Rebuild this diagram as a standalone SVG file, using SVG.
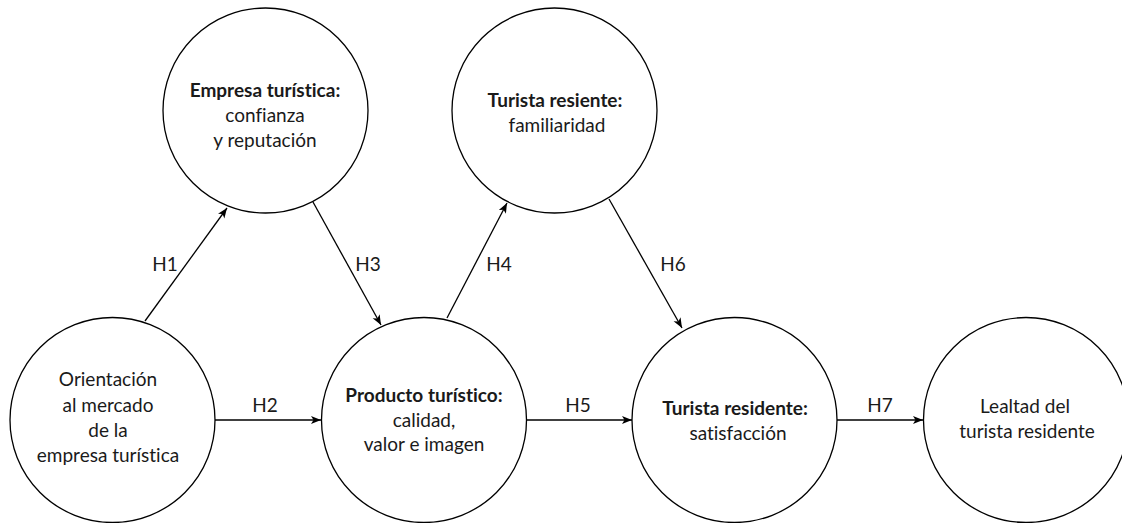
<svg xmlns="http://www.w3.org/2000/svg" width="1122" height="523" viewBox="0 0 1122 523">
<style>
.node{fill:#fff;stroke:#000;stroke-width:1.3}
text{font-family:Lato,"Open Sans","Liberation Sans",sans-serif;font-size:19px;fill:#1a1a1a;text-anchor:middle;font-variant-ligatures:none}
.b{font-weight:bold}
.edge{stroke:#000;stroke-width:1.3;fill:none;marker-end:url(#ah)}
</style>
<defs>
<marker id="ah" viewBox="0 0 10 10" refX="10" refY="5" markerWidth="10" markerHeight="10" markerUnits="userSpaceOnUse" orient="auto">
<path d="M0,1 L10,5 L0,9 L2.5,5 Z" fill="#000"/>
</marker>
</defs>
<g id="connectors">
<line class="edge" x1="145" y1="321" x2="227" y2="208"/>
<line class="edge" x1="215" y1="420" x2="321" y2="420"/>
<line class="edge" x1="313" y1="202" x2="381" y2="325"/>
<line class="edge" x1="447" y1="318" x2="507" y2="203"/>
<line class="edge" x1="526" y1="420" x2="632" y2="420"/>
<line class="edge" x1="609" y1="199" x2="682" y2="328"/>
<line class="edge" x1="837" y1="420" x2="923" y2="420"/>
<text x="165" y="271">H1</text>
<text x="265" y="412">H2</text>
<text x="368" y="271">H3</text>
<text x="499" y="271">H4</text>
<text x="578" y="412">H5</text>
<text x="673" y="271">H6</text>
<text x="880" y="412">H7</text>
</g>
<g id="orientacion">
<circle class="node" cx="112.5" cy="420" r="102.5"/>
<text x="108" y="386">Orientación</text>
<text x="108" y="412">al mercado</text>
<text x="108" y="437">de la</text>
<text x="108" y="462">empresa turística</text>
</g>
<g id="empresa">
<circle class="node" cx="265.5" cy="110.5" r="102.5"/>
<text x="265" y="97" class="b">Empresa turística:</text>
<text x="265" y="122">confianza</text>
<text x="265" y="147">y reputación</text>
</g>
<g id="producto">
<circle class="node" cx="424" cy="420" r="102.5"/>
<text x="424" y="402" class="b">Producto turístico:</text>
<text x="424" y="427">calidad, </text>
<text x="424" y="451">valor e imagen</text>
</g>
<g id="familiaridad">
<circle class="node" cx="554.5" cy="110.5" r="102.5"/>
<text x="555" y="107" class="b">Turista resiente:</text>
<text x="557" y="132">familiaridad</text>
</g>
<g id="satisfaccion">
<circle class="node" cx="734.5" cy="420" r="102.5"/>
<text x="735" y="415" class="b">Turista residente:</text>
<text x="738" y="440">satisfacción</text>
</g>
<g id="lealtad">
<circle class="node" cx="1026" cy="420" r="102.5"/>
<text x="1025" y="413">Lealtad del</text>
<text x="1027" y="438">turista residente</text>
</g>
</svg>
